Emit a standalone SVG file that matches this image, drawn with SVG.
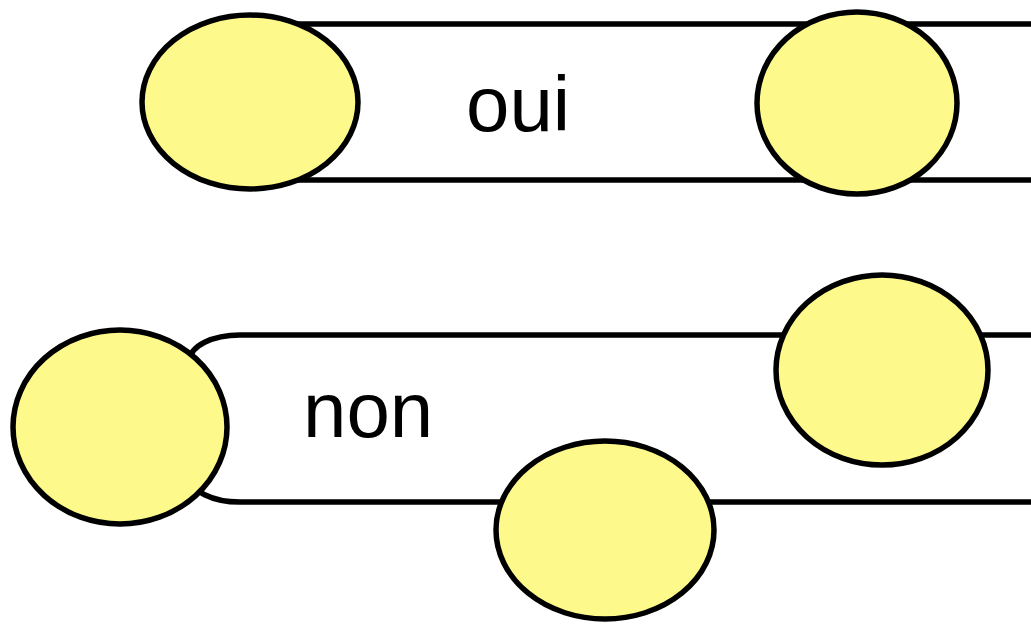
<svg xmlns="http://www.w3.org/2000/svg" width="1031" height="624" viewBox="0 0 1031 624">
<style>
.band{fill:#ffffff;stroke:#000000;stroke-width:5.5}
.node{fill:#fdf98a;stroke:#000000;stroke-width:5.5}
.lbl{font-family:"Liberation Sans",Arial,sans-serif;font-size:78px;fill:#000000}
</style>
<rect width="1031" height="624" fill="#ffffff"/>
<g id="connectors">
<rect class="band" x="250" y="24" width="850" height="156"/>
<rect class="band" x="190" y="335" width="900" height="167" rx="50" ry="25"/>
</g>
<g id="label-oui"><text class="lbl" x="466" y="131">oui</text></g>
<g id="label-non"><text class="lbl" x="303" y="437">non</text></g>
<g id="node-top-left"><ellipse class="node" cx="250" cy="102" rx="108" ry="87"/></g>
<g id="node-top-right"><ellipse class="node" cx="857" cy="103" rx="100" ry="91"/></g>
<g id="node-bottom-left"><ellipse class="node" cx="120" cy="427" rx="107" ry="97"/></g>
<g id="node-bottom-right"><ellipse class="node" cx="882" cy="370" rx="106" ry="95"/></g>
<g id="node-bottom-mid"><ellipse class="node" cx="605" cy="530" rx="109" ry="89"/></g>
</svg>
